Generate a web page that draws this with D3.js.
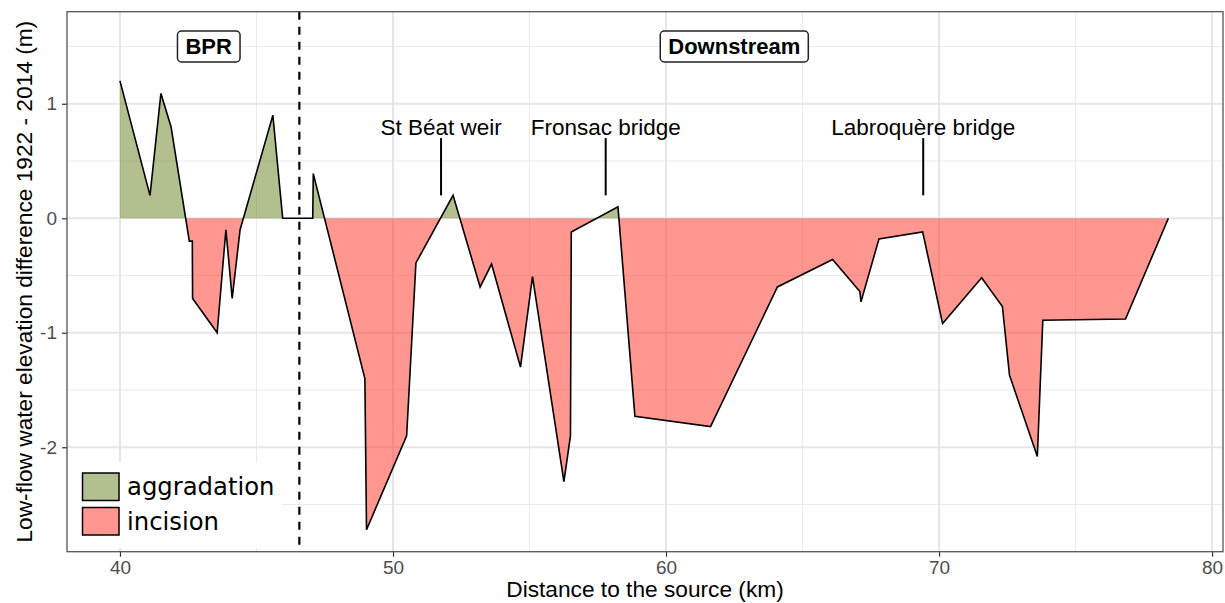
<!DOCTYPE html>
<html>
<head>
<meta charset="utf-8">
<script src="https://cdn.jsdelivr.net/npm/d3@7"></script>
<style>
  body { margin: 0; background: #fff; }
  svg { display: block; font-family: "Liberation Sans", Arial, sans-serif; }
</style>
</head>
<body>
<svg id="chart" width="1225" height="603"></svg>
<script>
// distance to the source (km) and elevation difference (m)
var distKm = [40.0, 41.1, 41.5, 41.87, 42.54, 42.65, 42.66, 43.56, 43.88, 44.11, 44.4, 45.6, 45.96, 47.06, 47.08,
  48.97, 49.03, 50.5, 50.84, 52.2, 53.19, 53.61, 54.67, 55.11, 56.26, 56.5, 56.53, 58.24, 58.86, 61.63,
  64.08, 66.1, 67.1, 67.14, 67.8, 69.4, 70.13, 71.56, 72.32, 72.58, 73.6, 73.8, 76.83, 78.4];
var elevDiff = [1.2, 0.2, 1.09, 0.8, -0.2, -0.2, -0.7, -1.0, -0.1, -0.7, -0.1, 0.9, 0, 0, 0.39,
  -1.4, -2.72, -1.9, -0.39, 0.2, -0.6, -0.4, -1.3, -0.51, -2.3, -1.9, -0.12, 0.1, -1.73, -1.82,
  -0.6, -0.36, -0.64, -0.73, -0.18, -0.12, -0.92, -0.52, -0.77, -1.37, -2.08, -0.89, -0.88, 0];

var xTicks = [40, 50, 60, 70, 80];
var xMinor = [45, 55, 65, 75];
var yTicks = [-2, -1, 0, 1];
var yMinor = [-2.5, -1.5, -0.5, 0.5, 1.5];

var boundaryKm = 46.57;
var reachLabels = ["BPR", "Downstream"];
var reachKm = [43.25, 62.5];
var reachY = 1.5;

var siteLabels = ["St Béat weir", "Fronsac bridge", "Labroquère bridge"];
var siteKm = [51.76, 57.79, 69.42];
var siteTextY = 0.73, siteTop = 0.7, siteBottom = 0.2;

var legendLabels = ["aggradation", "incision"];
var legendColors = ["#65801f", "#ff2d22"];

var svg = d3.select("#chart"),
  pLeft = 67, pRight = 1223, pTop = 11.7, pBottom = 551.7;

var x = d3.scaleLinear().domain([38.06, 80.4]).range([pLeft, pRight]);
var y = d3.scaleLinear().domain([-2.912, 1.804]).range([pBottom, pTop]);

var data = distKm.map((d, i) => ({ km: d, dz: elevDiff[i] }));

// grid
var grid = svg.append("g");
grid.selectAll(".xminor").data(xMinor).enter().append("line")
  .attr("x1", d => x(d)).attr("x2", d => x(d)).attr("y1", pTop).attr("y2", pBottom)
  .attr("stroke", "#ebebeb").attr("stroke-width", 1);
grid.selectAll(".yminor").data(yMinor).enter().append("line")
  .attr("x1", pLeft).attr("x2", pRight).attr("y1", d => y(d)).attr("y2", d => y(d))
  .attr("stroke", "#ebebeb").attr("stroke-width", 1);
grid.selectAll(".xmajor").data(xTicks).enter().append("line")
  .attr("x1", d => x(d)).attr("x2", d => x(d)).attr("y1", pTop).attr("y2", pBottom)
  .attr("stroke", "#e6e6e6").attr("stroke-width", 2);
grid.selectAll(".ymajor").data(yTicks).enter().append("line")
  .attr("x1", pLeft).attr("x2", pRight).attr("y1", d => y(d)).attr("y2", d => y(d))
  .attr("stroke", "#e6e6e6").attr("stroke-width", 2);

// clip regions above / below zero
var defs = svg.append("defs");
defs.append("clipPath").attr("id", "clipUp").append("rect")
  .attr("x", pLeft).attr("y", pTop).attr("width", pRight - pLeft).attr("height", y(0) - pTop);
defs.append("clipPath").attr("id", "clipDown").append("rect")
  .attr("x", pLeft).attr("y", y(0)).attr("width", pRight - pLeft).attr("height", pBottom - y(0));

var area = d3.area()
  .x(d => x(d.km))
  .y0(y(0))
  .y1(d => y(d.dz));

svg.append("path")
  .attr("d", area(data))
  .attr("fill", legendColors[0])
  .attr("fill-opacity", 0.5)
  .attr("clip-path", "url(#clipUp)");

svg.append("path")
  .attr("d", area(data))
  .attr("fill", legendColors[1])
  .attr("fill-opacity", 0.5)
  .attr("clip-path", "url(#clipDown)");

var line = d3.line()
  .x(d => x(d.km))
  .y(d => y(d.dz));

svg.append("path")
  .attr("d", line(data))
  .attr("fill", "none")
  .attr("stroke", "#000")
  .attr("stroke-width", 1.6)
  .attr("stroke-linejoin", "miter");

// reach boundary
svg.append("line")
  .attr("x1", x(boundaryKm)).attr("x2", x(boundaryKm))
  .attr("y1", pTop).attr("y2", pBottom)
  .attr("stroke", "#000")
  .attr("stroke-width", 2.2)
  .attr("stroke-dasharray", "8,7");

// reach labels in boxes
reachLabels.forEach(function(lbl, i) {
  var g = svg.append("g");
  var t = g.append("text")
    .attr("x", x(reachKm[i]))
    .attr("y", y(reachY))
    .attr("dy", "0.36em")
    .attr("text-anchor", "middle")
    .attr("font-weight", "bold")
    .attr("font-size", 22)
    .attr("fill", "#000")
    .text(lbl);
  var bb = t.node().getBBox();
  g.insert("rect", "text")
    .attr("x", bb.x - 8).attr("y", y(reachY) - 15.5)
    .attr("width", bb.width + 16).attr("height", 31)
    .attr("rx", 4).attr("ry", 4)
    .attr("fill", "#fff")
    .attr("stroke", "#222")
    .attr("stroke-width", 1.5);
});

// site annotations
siteLabels.forEach(function(lbl, i) {
  svg.append("text")
    .attr("x", x(siteKm[i]))
    .attr("y", y(siteTextY))
    .attr("text-anchor", "middle")
    .attr("font-size", 22.5)
    .attr("fill", "#000")
    .text(lbl);
  svg.append("line")
    .attr("x1", x(siteKm[i])).attr("x2", x(siteKm[i]))
    .attr("y1", y(siteTop)).attr("y2", y(siteBottom))
    .attr("stroke", "#000")
    .attr("stroke-width", 2);
});

// axes
var xAxis = svg.append("g")
  .attr("transform", "translate(0," + pBottom + ")")
  .call(d3.axisBottom(x).tickValues(xTicks).tickSize(5).tickPadding(4).tickFormat(d => String(d)));
var yAxis = svg.append("g")
  .attr("transform", "translate(" + pLeft + ",0)")
  .call(d3.axisLeft(y).tickValues(yTicks).tickSize(5).tickPadding(5).tickFormat(d => String(d)));

[xAxis, yAxis].forEach(function(a) {
  a.select(".domain").remove();
  a.selectAll(".tick line").attr("stroke", "#333").attr("stroke-width", 1.2);
  a.selectAll(".tick text")
    .attr("fill", "#4d4d4d")
    .attr("font-size", 19)
    .attr("font-family", "Liberation Sans, Arial, sans-serif");
});

// panel border
svg.append("rect")
  .attr("x", pLeft).attr("y", pTop)
  .attr("width", pRight - pLeft).attr("height", pBottom - pTop)
  .attr("fill", "none")
  .attr("stroke", "#555")
  .attr("stroke-width", 1.3);

// axis titles
svg.append("text")
  .attr("x", (pLeft + pRight) / 2)
  .attr("y", 597)
  .attr("text-anchor", "middle")
  .attr("font-size", 22.7)
  .attr("fill", "#000")
  .text("Distance to the source (km)");

svg.append("text")
  .attr("transform", "translate(32," + (pTop + pBottom) / 2 + ") rotate(-90)")
  .attr("text-anchor", "middle")
  .attr("font-size", 22.7)
  .attr("fill", "#000")
  .text("Low-flow water elevation difference 1922 - 2014 (m)");

// legend
var legend = svg.append("g");
legend.append("rect")
  .attr("x", pLeft + 1).attr("y", 462)
  .attr("width", 214).attr("height", 86)
  .attr("fill", "#fff");
legendLabels.forEach(function(lbl, i) {
  legend.append("rect")
    .attr("x", 82.5).attr("y", 473 + i * 34.5)
    .attr("width", 36.5).attr("height", 27.5)
    .attr("fill", legendColors[i])
    .attr("fill-opacity", 0.5)
    .attr("stroke", "#000")
    .attr("stroke-width", 1.5);
  legend.append("text")
    .attr("x", 127)
    .attr("y", 473 + i * 34.5 + 13.75)
    .attr("dy", "0.36em")
    .attr("font-family", "DejaVu Sans, sans-serif")
    .attr("font-size", 24.3)
    .attr("fill", "#000")
    .text(lbl);
});
</script>
</body>
</html>
